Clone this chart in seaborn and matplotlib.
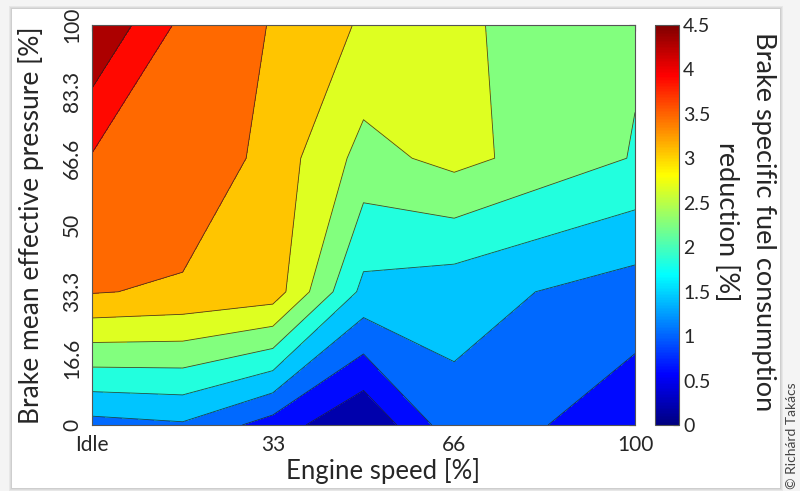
import numpy as np
import matplotlib
matplotlib.use("Agg")
import matplotlib.pyplot as plt
import seaborn as sns
from matplotlib.patches import Rectangle
from matplotlib.colors import Normalize, LinearSegmentedColormap
from matplotlib.cm import ScalarMappable

# ---- data ----
engine_speed = [0, 16.7, 33.3, 50, 66.7, 100]          # % (0 = Idle)
bmep = [0, 33.3, 66.7, 100]                             # %
bsfc_row_0 = [1.08, 1.178, 0.634, 0.02, 1.08, 0.576]
bsfc_row_33 = [3.30, 3.206, 3.09, 1.517, 1.39, 1.028]
bsfc_row_67 = [3.65, 3.66, 3.11, 2.31, 2.58, 2.02]
bsfc_row_100 = [4.49, 3.58, 3.25, 2.81, 2.53, 2.094]

x_ticks = [0, 33.3, 66.7, 100]
x_ticklabels = ["Idle", "33", "66", "100"]
y_ticks = [0, 16.6, 33.3, 50, 66.6, 83.3, 100]
y_ticklabels = ["0", "16.6", "33.3", "50", "66.6", "83.3", "100"]
cbar_ticks = [0, 0.5, 1, 1.5, 2, 2.5, 3, 3.5, 4, 4.5]
cbar_ticklabels = ["0", "0.5", "1", "1.5", "2", "2.5", "3", "3.5", "4", "4.5"]

# MATLAB-style jet colour map
matlab_jet = LinearSegmentedColormap("matlab_jet", {
    "red":   [(0, 0, 0), (0.375, 0, 0), (0.625, 1, 1), (0.875, 1, 1), (1, 0.5, 0.5)],
    "green": [(0, 0, 0), (0.125, 0, 0), (0.375, 1, 1), (0.625, 1, 1), (0.875, 0, 0), (1, 0, 0)],
    "blue":  [(0, 0.5, 0.5), (0.125, 1, 1), (0.375, 1, 1), (0.625, 0, 0), (1, 0, 0)],
}, N=256)

sns.set_style("white")
plt.rcParams["font.family"] = ["Lato", "DejaVu Sans"]

W, H = 800, 491
fig = plt.figure(figsize=(W / 100, H / 100), dpi=100)
fig.patch.set_facecolor("#f4f4f4")

# card with a soft shadow
for i, a in enumerate([0.05, 0.05, 0.06]):
    d = 3 - i
    fig.patches.append(Rectangle(((12 - d) / W, (3 - d) / H), (768 + 2 * d) / W, (479 + 2 * d) / H,
                                 transform=fig.transFigure, facecolor="#000000",
                                 alpha=a, edgecolor="none", zorder=-10))
fig.patches.append(Rectangle((12 / W, 3 / H), 768 / W, 479 / H, transform=fig.transFigure,
                             facecolor="white", edgecolor="none", zorder=-9))

ax = fig.add_axes([92 / W, 1 - 425 / H, 543 / W, 400 / H])
cax = fig.add_axes([655 / W, 1 - 425 / H, 24 / W, 400 / H])

Z = np.array([bsfc_row_0, bsfc_row_33, bsfc_row_67, bsfc_row_100])
levels = np.linspace(0, 4.5, 12)
ax.contourf(engine_speed, bmep, Z, levels=levels, cmap=matlab_jet, vmin=0, vmax=4.5)
ax.contour(engine_speed, bmep, Z, levels=levels[1:-1], colors="#202020",
           linewidths=0.6, alpha=0.8)

ax.set_xlim(0, 100)
ax.set_ylim(0, 100)
ax.set_xticks(x_ticks)
ax.set_xticklabels(x_ticklabels, fontsize=15)
ax.set_yticks(y_ticks)
ax.set_yticklabels(y_ticklabels, fontsize=15, rotation=90, va="center")
ax.tick_params(direction="in", length=4, width=0.8, color="#222222",
               top=True, right=True, pad=7)
ax.tick_params(axis="y", pad=7)
for s in ax.spines.values():
    s.set_color("#555555")
    s.set_linewidth(0.8)
ax.set_xlabel("Engine speed [%]", fontsize=18.5, labelpad=2)
ax.xaxis.label.set_x((383 - 92) / 543)
ax.set_ylabel("Brake mean effective pressure [%]", fontsize=19, labelpad=13)

sm = ScalarMappable(norm=Normalize(0, 4.5), cmap=matlab_jet)
cb = fig.colorbar(sm, cax=cax)
cb.set_ticks(cbar_ticks)
cb.set_ticklabels(cbar_ticklabels)
cax.tick_params(direction="in", length=4, width=0.8, color="#222222",
                labelsize=14, pad=3)
cb.outline.set_edgecolor("#555555")
cb.outline.set_linewidth(0.8)

fig.text(745 / W, 1 - 222 / H, "Brake specific fuel consumption\nreduction [%]",
         rotation=270, ha="center", va="center", multialignment="center",
         fontsize=19.5, linespacing=1.6)
fig.text(792 / W, 2 / H, "© Richárd Takács", rotation=90, ha="center", va="bottom",
         fontsize=10, color="#444444")

fig.savefig("out.png", dpi=100, facecolor=fig.get_facecolor())
